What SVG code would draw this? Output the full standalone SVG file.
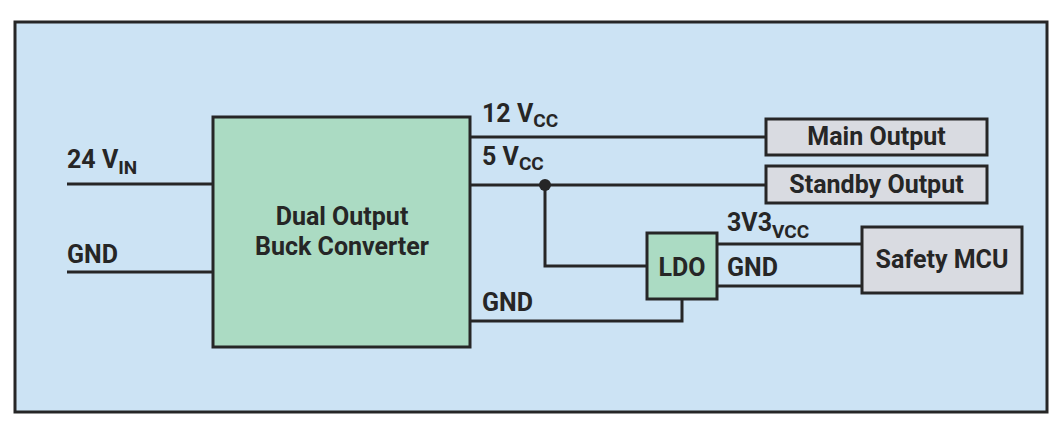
<svg xmlns="http://www.w3.org/2000/svg" width="1053" height="423" viewBox="0 0 1053 423">
<style>
text{font-family:"Roboto","Liberation Sans",sans-serif;font-weight:bold;fill:#262626;font-size:25px}
.sub{font-size:19px}
.w{stroke:#262626;stroke-width:3;fill:none}
.green{fill:#abdbc3;stroke:#262626;stroke-width:3}
.gray{fill:#d9dbe1;stroke:#262626;stroke-width:3}
</style>
<rect x="0" y="0" width="1053" height="423" fill="#ffffff"/>
<rect id="frame" x="15" y="22" width="1032" height="390" fill="#cce3f4" stroke="#262626" stroke-width="3"/>
<g id="connectors">
<path class="w" d="M67 184H213"/>
<path class="w" d="M67 272H213"/>
<path class="w" d="M470 137H766"/>
<path class="w" d="M470 185H766"/>
<path class="w" d="M545 185V266H647"/>
<circle cx="545" cy="185" r="6" fill="#262626"/>
<path class="w" d="M470 321H682V299"/>
<path class="w" d="M717 244H862"/>
<path class="w" d="M717 286H862"/>
</g>
<g id="labels">
<text x="67" y="168">24 V<tspan class="sub" dy="6">IN</tspan></text>
<text x="67" y="263">GND</text>
<text x="482" y="122">12 V<tspan class="sub" dy="5">CC</tspan></text>
<text x="482" y="165">5 V<tspan class="sub" dy="5">CC</tspan></text>
<text x="482" y="311">GND</text>
<text x="727" y="231">3V3<tspan class="sub" dy="7">VCC</tspan></text>
<text x="727" y="276">GND</text>
</g>
<g id="buck">
<rect class="green" x="213" y="117" width="257" height="230"/>
<text x="342" y="225" text-anchor="middle">Dual Output</text>
<text x="342" y="255" text-anchor="middle">Buck Converter</text>
</g>
<g id="main">
<rect class="gray" x="766" y="119" width="221" height="36"/>
<text x="876.5" y="145" text-anchor="middle">Main Output</text>
</g>
<g id="standby">
<rect class="gray" x="766" y="166" width="221" height="37"/>
<text x="876.5" y="193" text-anchor="middle">Standby Output</text>
</g>
<g id="ldo">
<rect class="green" x="647" y="233" width="70" height="66"/>
<text x="682" y="276" text-anchor="middle">LDO</text>
</g>
<g id="mcu">
<rect class="gray" x="862" y="227" width="160" height="66"/>
<text x="942" y="268" text-anchor="middle">Safety MCU</text>
</g>
</svg>
